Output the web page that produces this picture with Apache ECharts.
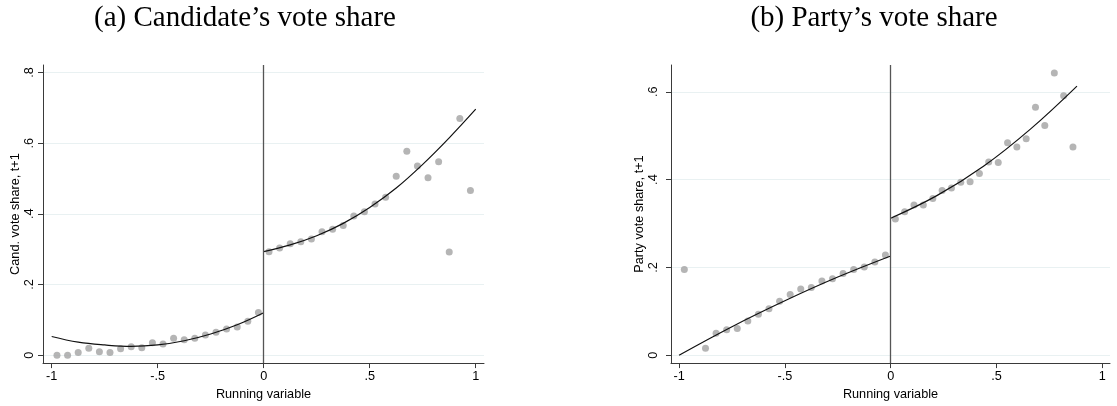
<!DOCTYPE html>
<html>
<head>
<meta charset="utf-8">
<script src="https://cdn.jsdelivr.net/npm/echarts@6/dist/echarts.min.js"></script>
<style>
html,body{margin:0;padding:0;background:#fff;}
#chart{width:1117px;height:406px;}
</style>
</head>
<body>
<div id="chart"></div>
<script>
// ---- tick labels ----
const xTicks = [-1, -0.5, 0, 0.5, 1];
const yTicksA = [0, 0.2, 0.4, 0.6, 0.8];
const yTicksB = [0, 0.2, 0.4, 0.6];

// ---- panel (a): Candidate's vote share ----
const candBinXLeft = [-0.975,-0.925,-0.875,-0.825,-0.775,-0.725,-0.675,-0.625,-0.575,-0.525,-0.475,-0.425,-0.375,-0.325,-0.275,-0.225,-0.175,-0.125,-0.075,-0.025];
const candDotsLeft = [0.000,0.000,0.008,0.020,0.010,0.008,0.018,0.024,0.021,0.035,0.032,0.048,0.044,0.048,0.057,0.065,0.074,0.080,0.096,0.121];
const candBinXRight = [0.025,0.075,0.125,0.175,0.225,0.275,0.325,0.375,0.425,0.475,0.525,0.575,0.625,0.675,0.725,0.775,0.825,0.875,0.925,0.975];
const candDotsRight = [0.293,0.303,0.315,0.321,0.329,0.349,0.356,0.367,0.394,0.406,0.428,0.447,0.506,0.577,0.535,0.502,0.547,0.292,0.670,0.466];
const candFitLeftX = [-1,-0.875,-0.75,-0.625,-0.5,-0.375,-0.25,-0.125,0];
const candFitLeftY = [0.053,0.037,0.029,0.025,0.029,0.041,0.060,0.086,0.120];
const candFitRightX = [0,0.125,0.25,0.375,0.5,0.625,0.75,0.875,1];
const candFitRightY = [0.293,0.312,0.338,0.373,0.418,0.473,0.540,0.615,0.696];

// ---- panel (b): Party's vote share ----
const partyBinXLeft = [-0.975,-0.875,-0.825,-0.775,-0.725,-0.675,-0.625,-0.575,-0.525,-0.475,-0.425,-0.375,-0.325,-0.275,-0.225,-0.175,-0.125,-0.075,-0.025];
const partyDotsLeft = [0.195,0.016,0.050,0.058,0.061,0.078,0.093,0.106,0.123,0.138,0.151,0.154,0.169,0.174,0.186,0.195,0.201,0.212,0.228];
const partyBinXRight = [0.022,0.066,0.110,0.154,0.199,0.243,0.287,0.331,0.375,0.419,0.463,0.508,0.552,0.596,0.640,0.684,0.728,0.773,0.817,0.861];
const partyDotsRight = [0.310,0.327,0.342,0.342,0.357,0.375,0.381,0.394,0.395,0.414,0.440,0.439,0.484,0.474,0.493,0.565,0.523,0.643,0.591,0.474];
const partyFitLeftX = [-1,-0.75,-0.5,-0.25,0];
const partyFitLeftY = [0.000,0.065,0.124,0.178,0.226];
const partyFitRightX = [0,0.22,0.44,0.66,0.88];
const partyFitRightY = [0.312,0.364,0.431,0.515,0.613];

const pairs = (xs, ys) => xs.map((x, i) => [x, ys[i]]);
const fmt = v => {
  if (Math.abs(v) < 1e-9) return '0';
  let s = String(Math.round(v * 10) / 10);
  return s.replace('0.', '.');
};

const SANS = '"Liberation Sans", Arial, sans-serif';
const SERIF = '"Liberation Serif", serif';
const dotColor = '#a2a2a2';
const gridColor = '#e9f1f2';
const axisColor = '#3a3a3a';

function xAxisCfg(gridIndex, min, max) {
  return {
    type: 'value', gridIndex, min, max,
    name: 'Running variable', nameLocation: 'middle', nameGap: 21,
    nameTextStyle: { color: '#000', fontSize: 12.7, fontFamily: SANS },
    axisLine: { onZero: false, lineStyle: { color: axisColor, width: 1 } },
    axisTick: { show: true, length: 5, customValues: xTicks, lineStyle: { color: axisColor } },
    axisLabel: { customValues: xTicks, formatter: fmt, margin: 7, color: '#000', fontSize: 12.7, fontFamily: SANS },
    splitLine: { show: false }
  };
}
function yAxisCfg(gridIndex, min, max, ticks, name, labelMargin, nameGap) {
  return {
    type: 'value', gridIndex, min, max,
    name, nameLocation: 'middle', nameGap,
    nameTextStyle: { color: '#000', fontSize: 12.7, fontFamily: SANS },
    axisLine: { show: true, onZero: false, lineStyle: { color: axisColor, width: 1 } },
    axisTick: { show: true, length: 5, customValues: ticks, lineStyle: { color: axisColor } },
    axisLabel: { customValues: ticks, formatter: fmt, rotate: 90, margin: labelMargin, color: '#000', fontSize: 12.7, fontFamily: SANS },
    splitLine: { show: true, lineStyle: { color: gridColor, width: 1 } }
  };
}
function dots(idx, xs, ys) {
  return { type: 'scatter', xAxisIndex: idx, yAxisIndex: idx, data: pairs(xs, ys),
    symbol: 'circle', symbolSize: 7, itemStyle: { color: dotColor }, silent: true, z: 3 };
}
function fit(idx, xs, ys, withLine) {
  const s = { type: 'line', xAxisIndex: idx, yAxisIndex: idx, data: pairs(xs, ys),
    smooth: 0.4, showSymbol: false, symbol: 'none', silent: true, z: 4,
    lineStyle: { color: '#111', width: 1.2 } };
  if (withLine) {
    s.markLine = { silent: true, symbol: ['none', 'none'], label: { show: false },
      lineStyle: { color: '#555', width: 1.3, type: 'solid' }, data: [{ xAxis: 0 }] };
  }
  return s;
}

const chart = echarts.init(document.getElementById('chart'), null, { renderer: 'canvas' });
chart.setOption({
  animation: false,
  backgroundColor: '#fff',
  grid: [
    { left: 43, top: 65, width: 441, height: 302 },
    { left: 671, top: 65, width: 439, height: 302 }
  ],
  xAxis: [xAxisCfg(0, -1.041, 1.039), xAxisCfg(1, -1.038, 1.036)],
  yAxis: [
    yAxisCfg(0, -0.0223, 0.821, yTicksA, 'Cand. vote share, t+1', 7, 21),
    yAxisCfg(1, -0.018, 0.661, yTicksB, 'Party vote share, t+1', 11, 20)
  ],
  graphic: [
    { type: 'text', x: 245, y: 18, style: { text: '(a) Candidate\u2019s vote share', textAlign: 'center', textVerticalAlign: 'middle', fontSize: 29, fontFamily: SERIF, fill: '#000' } },
    { type: 'text', x: 874, y: 18, style: { text: '(b) Party\u2019s vote share', textAlign: 'center', textVerticalAlign: 'middle', fontSize: 29, fontFamily: SERIF, fill: '#000' } }
  ],
  series: [
    dots(0, candBinXLeft, candDotsLeft),
    dots(0, candBinXRight, candDotsRight),
    fit(0, candFitLeftX, candFitLeftY, true),
    fit(0, candFitRightX, candFitRightY, false),
    dots(1, partyBinXLeft, partyDotsLeft),
    dots(1, partyBinXRight, partyDotsRight),
    fit(1, partyFitLeftX, partyFitLeftY, true),
    fit(1, partyFitRightX, partyFitRightY, false)
  ]
});
</script>
</body>
</html>
